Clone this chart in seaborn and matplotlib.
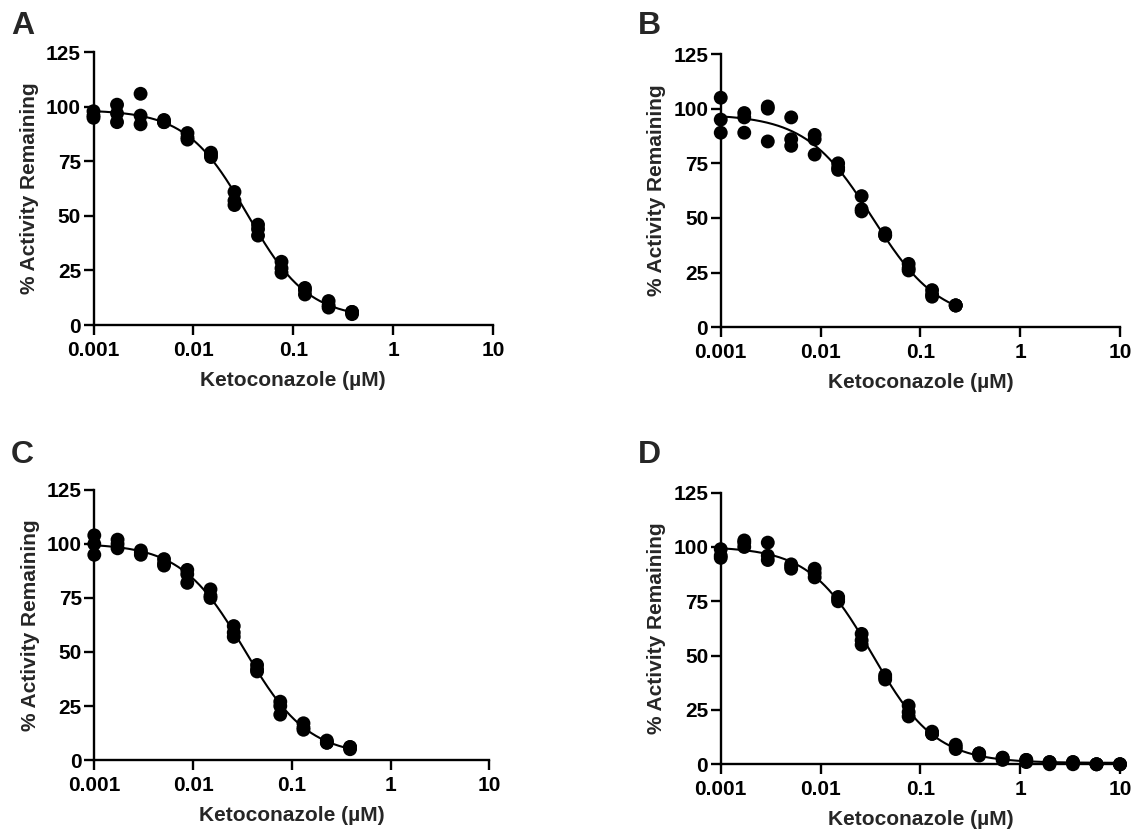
import numpy as np
import pandas as pd
import seaborn as sns
import matplotlib.pyplot as plt

# concentrations of the dilution series (uM)
conc = [0.001, 0.00172, 0.00296, 0.00508, 0.00873, 0.0150, 0.0258, 0.0444,
        0.0763, 0.131, 0.226, 0.388, 0.667, 1.15, 1.97, 3.38, 5.82, 10.0]

# % activity remaining, triplicates per concentration
vals_a = [[98, 96, 95], [101, 97, 93], [106, 96, 92], [94, 93, 93], [88, 86, 85],
          [79, 78, 77], [61, 57, 55], [46, 44, 41], [29, 26, 24], [17, 16, 14],
          [11, 9, 8], [6, 6, 5]]
vals_b = [[105, 95, 89], [98, 96, 89], [101, 100, 85], [96, 86, 83], [88, 86, 79],
          [75, 73, 72], [60, 54, 53], [43, 42, 42], [29, 27, 26], [17, 15, 14],
          [10, 10, 10]]
vals_c = [[104, 100, 95], [102, 100, 98], [97, 96, 95], [93, 91, 90], [88, 86, 82],
          [79, 76, 75], [62, 59, 57], [44, 42, 41], [27, 25, 21], [17, 15, 14],
          [9, 8, 8], [6, 6, 5]]
vals_d = [[99, 96, 95], [103, 102, 100], [102, 96, 94], [92, 91, 90], [90, 88, 86],
          [77, 76, 75], [60, 57, 55], [41, 40, 39], [27, 24, 22], [15, 14, 14],
          [9, 8, 7], [5, 5, 4], [3, 3, 2], [2, 2, 1], [1, 1, 0], [1, 1, 0],
          [0, 0, 0], [0, 0, 0]]

panel_labels = ["A", "B", "C", "D"]
y_ticks = [0, 25, 50, 75, 100, 125]
x_ticks = [0.001, 0.01, 0.1, 1, 10]
x_ticklabels = ["0.001", "0.01", "0.1", "1", "10"]


def fit_4pl(x, y):
    # grid search on IC50 / hill, top & bottom by least squares
    lx = np.log10(x)
    best = None
    for lic in np.linspace(-3, 0, 301):
        for h in np.linspace(0.5, 2.5, 81):
            s = 1.0 / (1.0 + 10 ** ((lx - lic) * h))
            A = np.column_stack([np.ones_like(s), s])
            coef, res, _, _ = np.linalg.lstsq(A, y, rcond=None)
            err = np.sum((A @ coef - y) ** 2)
            if best is None or err < best[0]:
                best = (err, lic, h, coef)
    _, lic, h, coef = best
    return lambda xx: coef[0] + coef[1] / (1.0 + 10 ** ((np.log10(xx) - lic) * h))


sns.set_style("ticks")
plt.rcParams['font.family'] = ['Liberation Sans', 'DejaVu Sans']
plt.rcParams['font.weight'] = 'bold'

fig = plt.figure(figsize=(11.32, 8.36), dpi=100)
positions = [
    [0.0826, 0.6112, 0.3529, 0.3262],
    [0.6367, 0.6085, 0.3527, 0.3269],
    [0.0833, 0.0909, 0.3491, 0.3230],
    [0.6367, 0.0858, 0.3527, 0.3249],
]
letter_pos = [(11, 11), (638, 11), (11, 440), (638, 440)]

for i, vals in enumerate([vals_a, vals_b, vals_c, vals_d]):
    n = len(vals)
    df = pd.DataFrame({
        "conc": np.repeat(conc[:n], 3),
        "activity": np.array(vals, dtype=float).ravel(),
    })
    curve = fit_4pl(df["conc"].values, df["activity"].values)
    xs = np.logspace(np.log10(conc[0]), np.log10(conc[n - 1]), 300)
    df_fit = pd.DataFrame({"conc": xs, "activity": curve(xs)})

    ax = fig.add_axes(positions[i])
    sns.lineplot(data=df_fit, x="conc", y="activity", ax=ax, color="black",
                 linewidth=1.5, zorder=3)
    sns.scatterplot(data=df, x="conc", y="activity", ax=ax, color="black",
                    s=100, edgecolor="none", clip_on=False, zorder=4)

    ax.set_xscale("log")
    ax.set_xlim(0.001, 10)
    ax.set_ylim(0, 125)
    ax.set_xticks(x_ticks)
    ax.set_xticklabels(x_ticklabels)
    ax.xaxis.set_minor_locator(plt.NullLocator())
    ax.set_yticks(y_ticks)
    ax.tick_params(axis="both", which="major", length=7, width=1.7,
                   labelsize=15, color="black", labelcolor="black")
    ax.tick_params(axis="x", pad=4.5)
    ax.tick_params(axis="y", pad=2)
    for lab in ax.get_xticklabels() + ax.get_yticklabels():
        lab.set_fontweight("bold")
    sns.despine(ax=ax)
    for sp in ["left", "bottom"]:
        ax.spines[sp].set_linewidth(1.7)
        ax.spines[sp].set_color("black")
    ax.set_xlabel("Ketoconazole (\u00b5M)", fontsize=15, fontweight="bold", labelpad=8)
    ax.set_ylabel("% Activity Remaining", fontsize=15, fontweight="bold", labelpad=5)

    lx, ly = letter_pos[i]
    fig.text(lx / 1132, 1 - ly / 836, panel_labels[i], fontsize=23,
             fontweight="bold", ha="left", va="top")

fig.savefig("out.png", dpi=100)
